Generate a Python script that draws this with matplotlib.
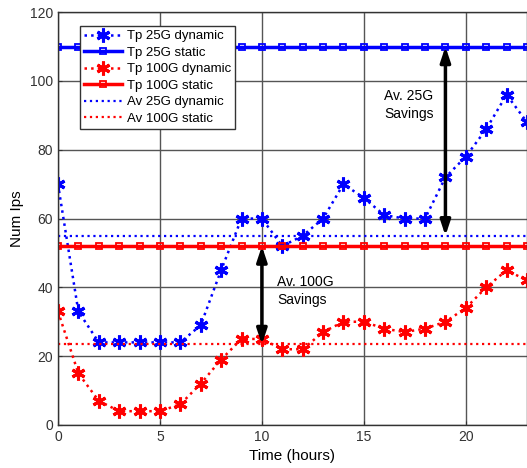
import matplotlib.pyplot as plt

plt.rcParams['font.family'] = ['Liberation Sans', 'DejaVu Sans']

hours = list(range(24))
tp_25g_dynamic = [70, 33, 24, 24, 24, 24, 24, 29, 45, 60, 60, 52,
                  55, 60, 70, 66, 61, 60, 60, 72, 78, 86, 96, 88]
tp_100g_dynamic = [33, 15, 7, 4, 4, 4, 6, 12, 19, 25, 25, 22,
                   22, 27, 30, 30, 28, 27, 28, 30, 34, 40, 45, 42]
tp_25g_static = [110] * 24
tp_100g_static = [52] * 24
av_25g_dynamic = 55
av_100g_dynamic = 23.4

asterisk = (6, 2, 0)

fig = plt.figure(figsize=(5.27, 4.68), dpi=100)
ax = fig.add_axes([0.110, 0.092, 0.890, 0.882])

ax.plot(hours, tp_25g_dynamic, ':', color='blue', lw=1.8, marker=asterisk,
        ms=10, mew=2.2, label='Tp 25G dynamic')
ax.plot(hours, tp_25g_static, '-', color='blue', lw=2.5, marker='s',
        ms=5, mfc='none', mew=1.3, label='Tp 25G static')
ax.plot(hours, tp_100g_dynamic, ':', color='red', lw=1.8, marker=asterisk,
        ms=10, mew=2.2, label='Tp 100G dynamic')
ax.plot(hours, tp_100g_static, '-', color='red', lw=2.5, marker='s',
        ms=5, mfc='none', mew=1.3, label='Tp 100G static')
ax.axhline(av_25g_dynamic, ls=':', color='blue', lw=1.6, label='Av 25G dynamic')
ax.axhline(av_100g_dynamic, ls=':', color='red', lw=1.6, label='Av 100G static')

arrow = dict(arrowstyle='<|-|>,head_length=0.9,head_width=0.3',
             color='black', lw=2.5, shrinkA=0, shrinkB=0)
ax.annotate('', xy=(19, tp_25g_static[19]), xytext=(19, av_25g_dynamic),
            arrowprops=arrow)
ax.annotate('', xy=(10, tp_100g_static[10]), xytext=(10, av_100g_dynamic),
            arrowprops=arrow)
ax.text(16.0, 93, 'Av. 25G\nSavings', fontsize=10, va='center', ha='left',
        linespacing=1.4)
ax.text(10.75, 39, 'Av. 100G\nSavings', fontsize=10, va='center', ha='left',
        linespacing=1.4)

ax.set_xlim(0, 23)
ax.set_ylim(0, 120)
ax.set_xticks([0, 5, 10, 15, 20])
ax.set_yticks(range(0, 121, 20))
ax.grid(True, color='#555555', lw=1.0)
ax.set_axisbelow(True)
for s in ax.spines.values():
    s.set_color('#333333')
    s.set_linewidth(1.0)
ax.tick_params(labelsize=10, colors='#333333', length=3, direction='in')

ax.set_xlabel('Time (hours)', fontsize=11)
ax.set_ylabel('Num Ips', fontsize=11)

ax.legend(loc='upper left', bbox_to_anchor=(0.047, 0.966), fontsize=9.5,
          handlelength=2.9, handletextpad=0.35, fancybox=False,
          edgecolor='#333333', framealpha=1, borderpad=0.3,
          labelspacing=0.32, borderaxespad=0)

fig.savefig('out.png', dpi=100)
